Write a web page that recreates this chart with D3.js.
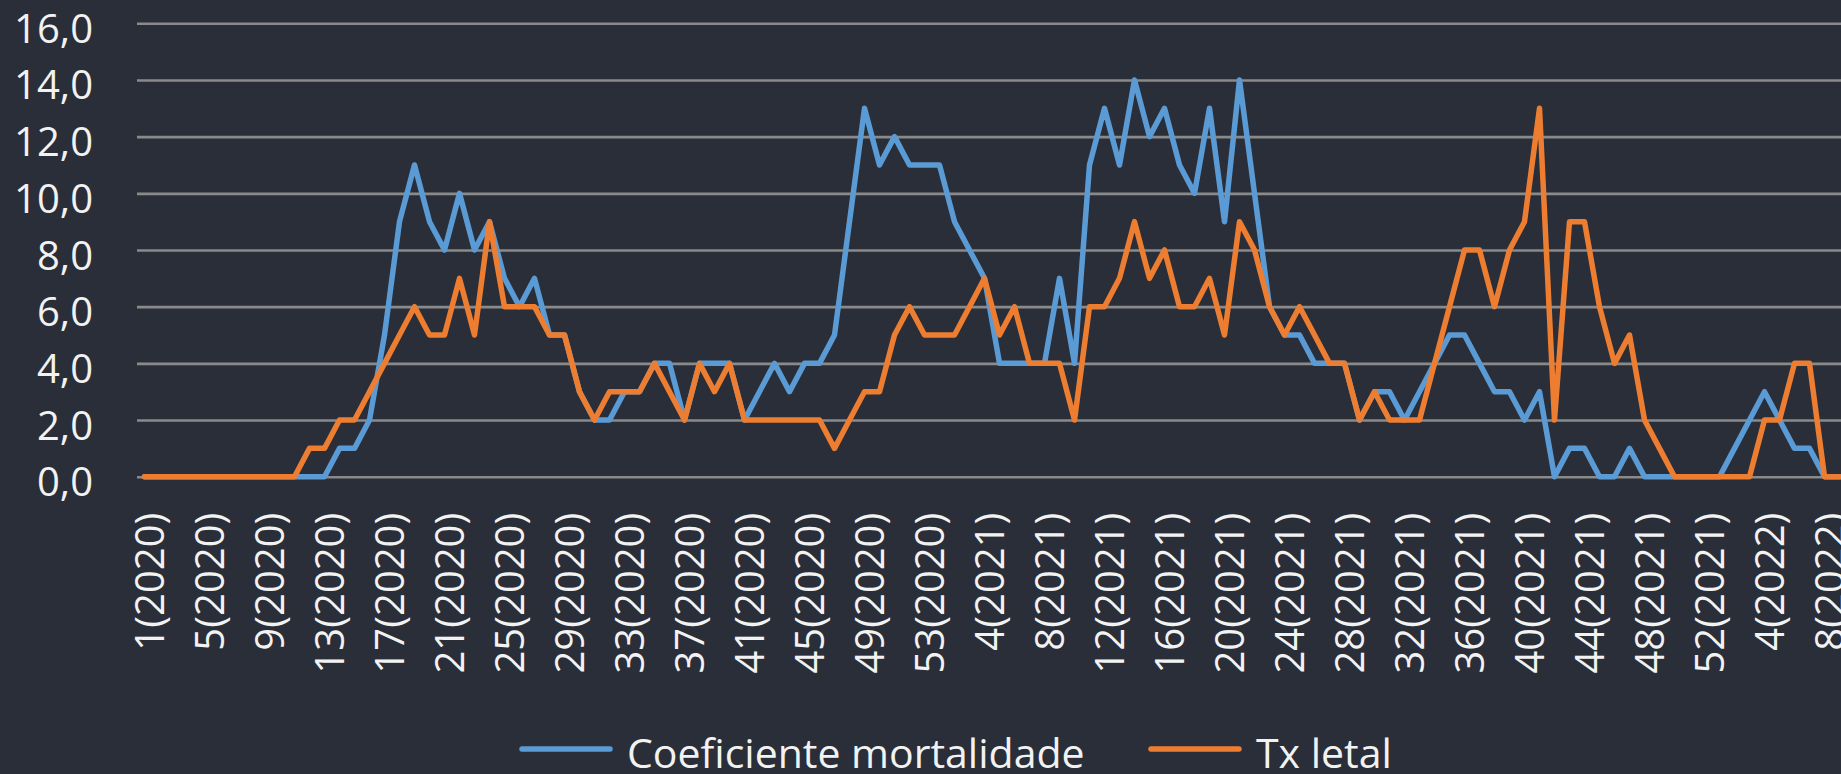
<!DOCTYPE html>
<html>
<head>
<meta charset="utf-8">
<script src="https://cdn.jsdelivr.net/npm/d3@7"></script>
<style>
  html, body { margin: 0; padding: 0; background: #292e38; overflow: hidden; }
  svg { display: block; }
  text { font-family: "Open Sans", sans-serif; fill: #f2f2f2; }
</style>
</head>
<body>
<script>

// weeks: 53 of 2020, 52 of 2021, 9 of 2022 (the last one is cut at the right edge)
const weeks = []
for (let w = 1; w <= 53; w++) weeks.push(w + '(2020)')
for (let w = 1; w <= 52; w++) weeks.push(w + '(2021)')
for (let w = 1; w <= 9; w++) weeks.push(w + '(2022)')

const coefMortalidade = [
    0, 0, 0, 0, 0, 0, 0, 0, 0, 0, 0, 0, 0, 1, 1, 2, 5, 9, 11, 9,
    8, 10, 8, 9, 7, 6, 7, 5, 5, 3, 2, 2, 3, 3, 4, 4, 2, 4, 4, 4,
    2, 3, 4, 3, 4, 4, 5, 9, 13, 11, 12, 11, 11, 11, 9, 8, 7, 4, 4, 4,
    4, 7, 4, 11, 13, 11, 14, 12, 13, 11, 10, 13, 9, 14, 10, 6, 5, 5, 4, 4,
    4, 2, 3, 3, 2, 3, 4, 5, 5, 4, 3, 3, 2, 3, 0, 1, 1, 0, 0, 1,
    0, 0, 0, 0, 0, 0, 1, 2, 3, 2, 1, 1, 0, 0
]

const txLetal = [
    0, 0, 0, 0, 0, 0, 0, 0, 0, 0, 0, 1, 1, 2, 2, 3, 4, 5, 6, 5,
    5, 7, 5, 9, 6, 6, 6, 5, 5, 3, 2, 3, 3, 3, 4, 3, 2, 4, 3, 4,
    2, 2, 2, 2, 2, 2, 1, 2, 3, 3, 5, 6, 5, 5, 5, 6, 7, 5, 6, 4,
    4, 4, 2, 6, 6, 7, 9, 7, 8, 6, 6, 7, 5, 9, 8, 6, 5, 6, 5, 4,
    4, 2, 3, 2, 2, 2, 4, 6, 8, 8, 6, 8, 9, 13, 2, 9, 9, 6, 4, 5,
    2, 1, 0, 0, 0, 0, 0, 0, 2, 2, 4, 4, 0, 0
]

const yTicks = [0, 2, 4, 6, 8, 10, 12, 14, 16]
const seriesNames = ['Coeficiente mortalidade', 'Tx letal']
const seriesColors = ['#5b9bd5', '#ed7d31']

const W = 1841, H = 774
const plotLeft = 137, plotTop = 23.3, plotBottom = 476.7
const step = 15

const svg = d3.select('body')
    .append('svg')
    .attr('width', W)
    .attr('height', H)

svg.append('rect')
    .attr('width', W)
    .attr('height', H)
    .attr('fill', '#292e38')

const x = d3.scalePoint()
    .domain(weeks)
    .range([plotLeft + step / 2, plotLeft + step / 2 + step * (weeks.length - 1)])

const y = d3.scaleLinear()
    .domain([0, 16])
    .range([plotBottom, plotTop])

const ptBR = d3.formatLocale({ decimal: ',', thousands: '.', grouping: [3], currency: ['R$', ''] })

// gridlines + y labels
const yAxis = svg.append('g')
    .attr('transform', `translate(${plotLeft},0)`)
    .call(d3.axisLeft(y)
        .tickValues(yTicks)
        .tickSize(-(W - plotLeft + 10))
        .tickPadding(44)
        .tickFormat(ptBR.format('.1f')))

yAxis.select('.domain').remove()
yAxis.selectAll('.tick line')
    .attr('stroke', '#8a8a8a')
    .attr('stroke-width', 2.6)
yAxis.selectAll('.tick text')
    .attr('font-size', 40)
    .attr('dy', 19)
    .attr('fill', '#f2f2f2')

// x labels, every 4th week
const xAxis = svg.append('g')
    .attr('transform', `translate(0,${plotBottom})`)
    .call(d3.axisBottom(x)
        .tickValues(weeks.filter((d, i) => i % 4 === 0))
        .tickSize(0))

xAxis.select('.domain').remove()
xAxis.selectAll('.tick text')
    .attr('font-size', 40)
    .attr('text-anchor', 'end')
    .attr('transform', 'translate(18.5,36) rotate(-90)')
    .attr('x', 0)
    .attr('y', 0)
    .attr('dy', 0)
    .attr('fill', '#f2f2f2')

const line = d3.line()
    .x((d, i) => x(weeks[i]))
    .y(d => y(d))

const series = [coefMortalidade, txLetal]

svg.selectAll('.serie')
    .data(series)
    .join('path')
    .attr('class', 'serie')
    .attr('d', d => line(d))
    .attr('fill', 'none')
    .attr('stroke', (d, i) => seriesColors[i])
    .attr('stroke-width', 5.5)
    .attr('stroke-linejoin', 'round')
    .attr('stroke-linecap', 'round')

// legend
const legendX = [522, 1151]
const legend = svg.selectAll('.legend')
    .data(seriesNames)
    .join('g')
    .attr('class', 'legend')
    .attr('transform', (d, i) => `translate(${legendX[i]},749)`)

legend.append('line')
    .attr('x1', 0)
    .attr('x2', 88)
    .attr('stroke', (d, i) => seriesColors[i])
    .attr('stroke-width', 5.5)
    .attr('stroke-linecap', 'round')

legend.append('text')
    .attr('x', 105)
    .attr('y', 19)
    .attr('font-size', 41)
    .text(d => d)

</script>
</body>
</html>
